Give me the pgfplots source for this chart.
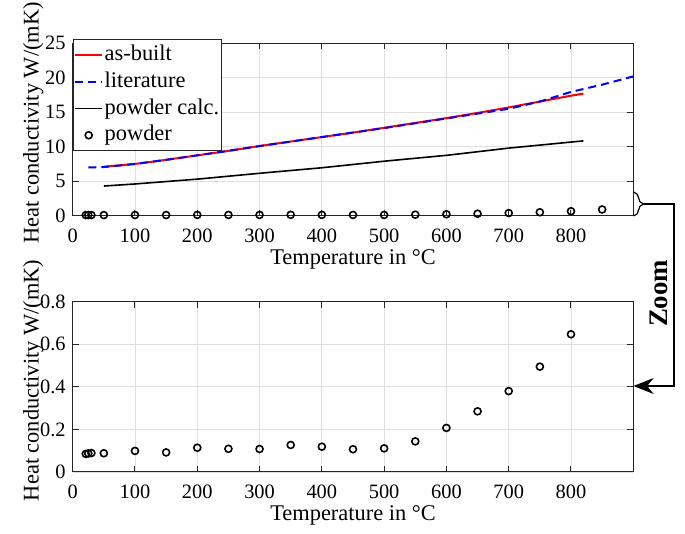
\documentclass[border=0pt]{standalone}
\usepackage{fontspec}
\setmainfont{Liberation Serif}
\usepackage{pgfplots}
\pgfplotsset{compat=1.18}
\usetikzlibrary{arrows.meta,decorations.pathreplacing}
\begin{document}
\begin{tikzpicture}
\useasboundingbox (0,0) rectangle (342.5pt,267pt);
\pgfplotsset{
  mystyle/.style={
    scale only axis, width=280.3pt,
    xmin=0, xmax=900, xtick={0,100,...,800},
    tick align=inside, major tick length=3pt,
    xmajorgrids, ymajorgrids,
    grid style={gray!25, line width=0.4pt},
    axis line style={black!85, line width=0.5pt},
    every tick/.style={black!85, line width=0.5pt},
    /pgf/number format/assume math mode=true,
    tick label style={font=\fontsize{10.2}{12}\selectfont},
    xticklabel style={anchor=base, yshift=-13.5pt},
    xlabel={Temperature in °C},
    ylabel={Heat conductivity W/(mK)},
    every axis x label/.style={at={(axis description cs:0.5,0)}, anchor=base, yshift=-24.5pt, font=\fontsize{11.2}{13}\selectfont},
    every axis y label/.style={at={(axis description cs:-0.0607,0.538)}, rotate=90, anchor=base, font=\fontsize{11.2}{13}\selectfont},
    legend image code/.code={\draw[mark repeat=2,mark phase=2,##1] plot coordinates {(0pt,0pt) (6.75pt,0pt) (13.5pt,0pt)};},
  }
}
% top axis
\begin{axis}[mystyle,
  at={(36.35pt,159.15pt)}, anchor=south west, height=86.2pt,
  ymin=0, ymax=25, ytick={0,5,...,25},
  legend style={draw=black!85, line width=0.5pt, fill=white,
    at={(axis description cs:0,1)}, anchor=north west, yshift=2pt,
    inner xsep=0.5pt, inner ysep=1pt, row sep=0pt,
    nodes={inner xsep=0.75pt, inner ysep=1pt, text height=8.5pt, text depth=2.85pt},
    font=\fontsize{11.2}{13}\selectfont, cells={anchor=west}},
]
\addplot[red, line width=1pt] coordinates {
 (50,7.1) (100,7.5) (150,8.1) (200,8.75) (250,9.4) (300,10.1) (350,10.75) (400,11.4)
 (450,12.05) (500,12.75) (550,13.45) (600,14.15) (650,14.9) (700,15.7) (750,16.55)
 (800,17.4) (820,17.7)};
\addlegendentry{as-built}
\addplot[blue, line width=1pt, dash pattern=on 4pt off 2.5pt] coordinates {
 (25,7.0) (50,7.05) (100,7.5) (150,8.1) (200,8.75) (250,9.4) (300,10.1) (350,10.75)
 (400,11.4) (450,12.05) (500,12.7) (550,13.4) (600,14.1) (650,14.8) (700,15.5)
 (750,16.55) (800,17.95) (850,19.0) (900,20.2)};
\addlegendentry{literature}
\addplot[black, line width=0.8pt] coordinates {
 (50,4.3) (100,4.6) (200,5.3) (300,6.15) (400,6.95) (500,7.9) (600,8.75) (700,9.8) (820,10.85)};
\addlegendentry{powder calc.}
\addplot[only marks, mark=o, mark size=1.75pt, black, mark options={line width=0.8pt}] coordinates {
 (21,0.085) (25,0.087) (30,0.089) (50,0.088) (100,0.099) (150,0.092) (200,0.114)
 (250,0.109) (300,0.108) (350,0.127) (400,0.119) (450,0.107) (500,0.111) (550,0.144)
 (600,0.207) (650,0.285) (700,0.380) (750,0.495) (800,0.647) (850,0.9)};
\addlegendentry{powder}
\end{axis}
% bottom axis
\begin{axis}[mystyle,
  at={(36.35pt,31pt)}, anchor=south west, height=85.15pt,
  ymin=0, ymax=0.8, ytick={0,0.2,...,0.8},
  yticklabel style={/pgf/number format/fixed, /pgf/number format/precision=1},
]
\addplot[only marks, mark=o, mark size=1.75pt, black, mark options={line width=0.8pt}] coordinates {
 (21,0.085) (25,0.087) (30,0.089) (50,0.088) (100,0.099) (150,0.092) (200,0.114)
 (250,0.109) (300,0.108) (350,0.127) (400,0.119) (450,0.107) (500,0.111) (550,0.144)
 (600,0.207) (650,0.285) (700,0.380) (750,0.495) (800,0.647)};
\end{axis}
% zoom annotation
\draw[black, line width=0.6pt, decorate, decoration={brace, amplitude=5pt}] (316.8pt,171pt) -- (316.8pt,159pt);
\draw[black, line width=0.8pt, -{Stealth[length=10pt, width=8pt]}] (321.8pt,165pt) -- (337pt,165pt) -- (337pt,74pt) -- (316.8pt,74pt);
\node[rotate=90, anchor=base, font=\bfseries\fontsize{13.4}{15}\selectfont, inner sep=0pt] at (333.5pt,120.25pt) {Zoom};
\end{tikzpicture}
\end{document}
